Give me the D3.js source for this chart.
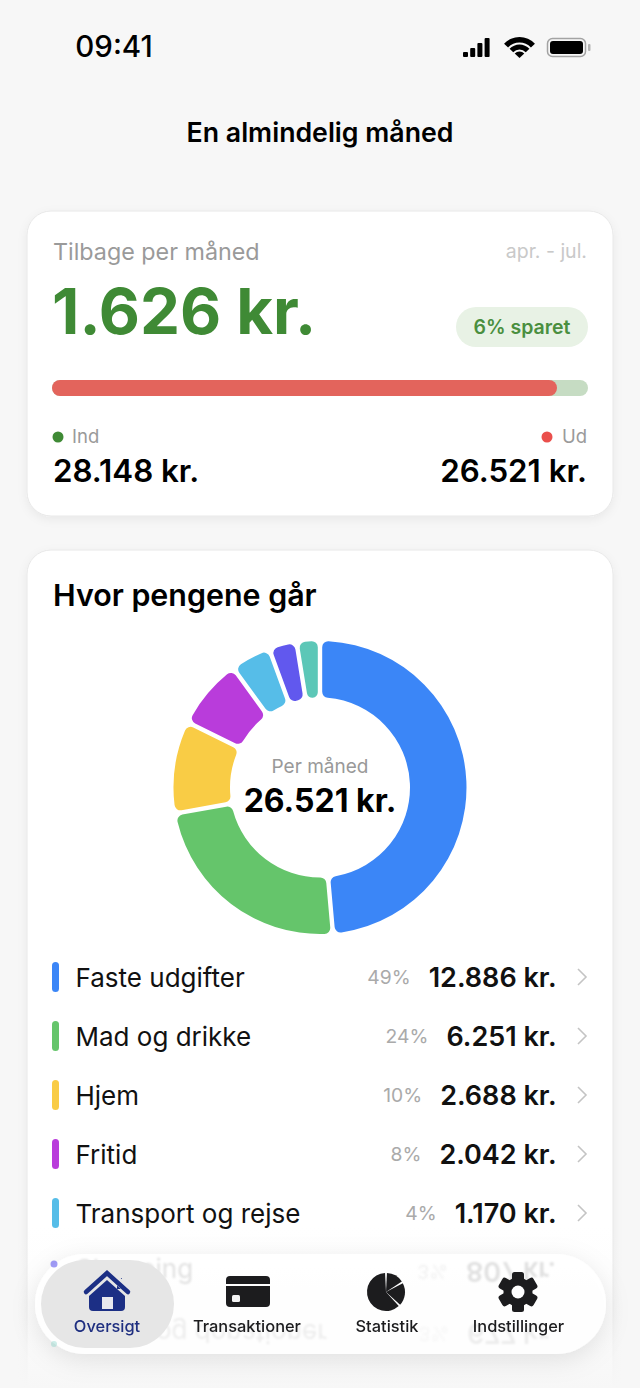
<!DOCTYPE html>
<html lang="da">
<head>
<meta charset="utf-8">
<title>En almindelig måned</title>
<script src="https://cdn.jsdelivr.net/npm/d3@7"></script>
<style>
  html, body { margin: 0; padding: 0; background: #f7f7f7; }
  svg { display: block; font-family: Inter, "Noto Sans", sans-serif; }
</style>
</head>
<body>
<svg id="app" width="640" height="1388"></svg>
<script>
// data
const categories = ["Faste udgifter", "Mad og drikke", "Hjem", "Fritid", "Transport og rejse", "Shopping", "Gaver og donationer"];
const amounts = [12886, 6251, 2688, 2042, 1170, 807, 677];
const percents = [49, 24, 10, 8, 4, 3, 3];
const colors = ["#3b86f7", "#65c56b", "#f9cc45", "#b93cdb", "#56bde8", "#6158ee", "#5cc7b7"];
const income = 28148;
const expense = 26521;
const left = 1626;
const savedPct = 6;
const navLabels = ["Oversigt", "Transaktioner", "Statistik", "Indstillinger"];

const kr = v => d3.format(",")(v).replace(/,/g, ".") + " kr.";

const svg = d3.select("#app");
const defs = svg.append("defs");

// skygge paa kort og menu
const cardShadow = defs.append("filter").attr("id", "cardShadow")
    .attr("x", "-10%").attr("y", "-10%").attr("width", "120%").attr("height", "120%");
cardShadow.append("feDropShadow").attr("dx", 0).attr("dy", 3).attr("stdDeviation", 5)
    .attr("flood-color", "#000").attr("flood-opacity", 0.06);

const navShadow = defs.append("filter").attr("id", "navShadow")
    .attr("x", "-10%").attr("y", "-40%").attr("width", "120%").attr("height", "180%");
navShadow.append("feDropShadow").attr("dx", 0).attr("dy", 6).attr("stdDeviation", 12)
    .attr("flood-color", "#000").attr("flood-opacity", 0.10);

defs.append("filter").attr("id", "ghostBlur").append("feGaussianBlur").attr("stdDeviation", 0.9);
defs.append("filter").attr("id", "activeBlur").append("feGaussianBlur").attr("stdDeviation", 0.6);

const fade = defs.append("linearGradient").attr("id", "bottomFade")
    .attr("x1", 0).attr("y1", 0).attr("x2", 0).attr("y2", 1);
fade.append("stop").attr("offset", "0%").attr("stop-color", "#f7f7f7").attr("stop-opacity", 0);
fade.append("stop").attr("offset", "30%").attr("stop-color", "#f7f7f7").attr("stop-opacity", 0.15);
fade.append("stop").attr("offset", "100%").attr("stop-color", "#f7f7f7").attr("stop-opacity", 1);

function text(parent, str, x, y, size, weight, fill, anchor) {
    return parent.append("text")
        .attr("x", x).attr("y", y)
        .attr("font-size", size).attr("font-weight", weight)
        .attr("fill", fill).attr("text-anchor", anchor || "start")
        .text(str);
}

drawStatusBar();
text(svg, "En almindelig måned", 320, 142, 26.7, 600, "#000", "middle");
drawSummaryCard();
drawSpendingCard();
drawNav();

function drawStatusBar() {
    const g = svg.append("g");
    text(g, "09:41", 114, 57, 29.5, 500, "#000", "middle");

    // signal
    [5, 9, 14, 19].forEach((h, i) => {
        g.append("rect").attr("x", 463 + i * 7.2).attr("y", 57 - h)
            .attr("width", 5).attr("height", h).attr("rx", 1).attr("fill", "#000");
    });

    // wifi
    const wifi = g.append("g").attr("transform", "translate(519.5,58)");
    [[15.5, 21], [8.5, 13.5], [0, 6.5]].forEach(([r0, r1]) => {
        wifi.append("path").attr("fill", "#000")
            .attr("d", d3.arc().innerRadius(r0).outerRadius(r1)
                .startAngle(-Math.PI / 3.8).endAngle(Math.PI / 3.8)());
    });

    // batteri
    g.append("rect").attr("x", 547.5).attr("y", 38.5).attr("width", 38).attr("height", 18)
        .attr("rx", 5).attr("fill", "none").attr("stroke", "#a3a3a3").attr("stroke-width", 1.5);
    g.append("rect").attr("x", 550).attr("y", 41).attr("width", 33).attr("height", 13)
        .attr("rx", 3).attr("fill", "#000");
    g.append("rect").attr("x", 588).attr("y", 44).attr("width", 2.5).attr("height", 7)
        .attr("rx", 1).attr("fill", "#b5b5b5");
}

function drawSummaryCard() {
    const g = svg.append("g");
    g.append("rect").attr("x", 27).attr("y", 211).attr("width", 586).attr("height", 305)
        .attr("rx", 24).attr("fill", "#fff").attr("stroke", "#e8e8e8").attr("filter", "url(#cardShadow)");

    text(g, "Tilbage per måned", 53, 260, 23.3, 400, "#9a9a9a");
    text(g, "apr. - jul.", 587, 258, 19.5, 400, "#c9c9c9", "end");
    text(g, kr(left), 52, 334, 63.5, 700, "#3f8a35");

    g.append("rect").attr("x", 456).attr("y", 307).attr("width", 132).attr("height", 40)
        .attr("rx", 20).attr("fill", "#e8f2e5");
    text(g, savedPct + "% sparet", 522, 334, 19.5, 600, "#4a8f3f", "middle");

    // fordeling ind / ud
    const x = d3.scaleLinear().domain([0, income]).range([52, 588]);
    g.append("rect").attr("x", x(0)).attr("y", 380).attr("width", x(income) - x(0)).attr("height", 16)
        .attr("rx", 8).attr("fill", "#c6dcc3");
    g.append("rect").attr("x", x(0)).attr("y", 380).attr("width", x(expense) - x(0)).attr("height", 16)
        .attr("rx", 8).attr("fill", "#e3645c");

    g.append("circle").attr("cx", 58).attr("cy", 437).attr("r", 5.5).attr("fill", "#3f8a35");
    text(g, "Ind", 72, 443, 18.5, 400, "#9a9a9a");
    g.append("circle").attr("cx", 547).attr("cy", 437).attr("r", 5.5).attr("fill", "#ea4f4c");
    text(g, "Ud", 587, 443, 18.5, 400, "#9a9a9a", "end");

    text(g, kr(income), 53, 482, 31.3, 600, "#000");
    text(g, kr(expense), 587, 482, 31.3, 600, "#000", "end");
}

function drawSpendingCard() {
    const g = svg.append("g");
    g.append("rect").attr("x", 27).attr("y", 550).attr("width", 586).attr("height", 900)
        .attr("rx", 24).attr("fill", "#fff").attr("stroke", "#e8e8e8").attr("filter", "url(#cardShadow)");

    text(g, "Hvor pengene går", 53, 606, 30.4, 600, "#000");

    // donut
    const pie = d3.pie().value(d => d).sort(null);
    const arc = d3.arc().innerRadius(90).outerRadius(146.5).cornerRadius(6).padRadius(146.5).padAngle(0.03);
    const donut = g.append("g").attr("transform", "translate(320,787.5)");
    donut.selectAll("path").data(pie(amounts)).enter().append("path")
        .attr("d", arc)
        .attr("fill", (d, i) => colors[i]);

    text(g, "Per måned", 320, 773, 19, 400, "#999", "middle");
    text(g, kr(expense), 320, 812, 32, 700, "#000", "middle");

    // raekker
    const y = d3.scalePoint().domain(categories).range([977, 1331]);
    categories.slice(0, 5).forEach((name, i) => {
        const cy = y(name);
        const row = g.append("g");
        row.append("rect").attr("x", 52).attr("y", cy - 15).attr("width", 7).attr("height", 30)
            .attr("rx", 3.5).attr("fill", colors[i]);
        text(row, name, 75.5, cy + 9.5, 26, 400, "#111");
        const val = text(row, kr(amounts[i]), 556.5, cy + 10, 27, 600, "#111", "end");
        const w = val.node().getComputedTextLength();
        text(row, percents[i] + "%", 556.5 - w - 18, cy + 7, 19.3, 400, "#aaa", "end");
        row.append("path").attr("d", `M578,${cy - 8} L586,${cy} L578,${cy + 8}`)
            .attr("fill", "none").attr("stroke", "#c4c4c4").attr("stroke-width", 1.6);
    });

    // udtoning mod bunden
    svg.append("rect").attr("x", 0).attr("y", 1225).attr("width", 640).attr("height", 163)
        .attr("fill", "url(#bottomFade)");
}

function drawNav() {
    const g = svg.append("g");
    g.append("rect").attr("x", 35).attr("y", 1254).attr("width", 571).attr("height", 100)
        .attr("rx", 50).attr("fill", "#fff").attr("fill-opacity", 0.96).attr("filter", "url(#navShadow)");

    // raekker 6-7 anes gennem glasset, spejlvendt
    const y = d3.scalePoint().domain(categories).range([977, 1331]);
    const ghost = g.append("g").attr("filter", "url(#ghostBlur)");
    categories.slice(5).forEach((name, i) => {
        const k = i + 5;
        const cy = y(name) + (k === 5 ? 0 : 3);
        const row = ghost.append("g")
            .attr("opacity", k === 5 ? 0.12 : 0.07)
            .attr("transform", `translate(0,${2 * cy}) scale(1,-1)`);
        const nameText = text(row, name, 76, cy + 9.5, 26, 400, "#111");
        if (k === 5) {
            // navnet i raekke 6 staar ikke paa hovedet
            nameText.attr("transform", `translate(0,${2 * cy + 4}) scale(1,-1)`);
        }
        const val = text(row, kr(amounts[k]), 556, cy + 10, 27, 600, "#111", "end");
        const w = val.node().getComputedTextLength();
        text(row, percents[k] + "%", 556 - w - 18, cy + 7, 19.3, 400, "#888", "end");
    });
    g.append("circle").attr("cx", 54).attr("cy", 1264).attr("r", 3.5).attr("fill", colors[5]).attr("opacity", 0.6);
    g.append("circle").attr("cx", 54).attr("cy", 1344).attr("r", 3).attr("fill", colors[6]).attr("opacity", 0.3);

    // valgt fane
    g.append("rect").attr("x", 41).attr("y", 1260).attr("width", 133).attr("height", 88)
        .attr("rx", 44).attr("fill", "#e6e6e6").attr("filter", "url(#activeBlur)");

    const navX = [107, 247, 387, 518.5];
    navLabels.forEach((label, i) => {
        text(g, label, navX[i], 1332, 16.4, 500, i === 0 ? "#1f2f80" : "#1c1c1e", "middle");
    });

    // hjem
    const home = g.append("g").attr("fill", "#1c2f85");
    home.append("path").attr("d", "M89,1296 L107,1280 L125,1296 L125,1307 Q125,1311 121,1311 L93,1311 Q89,1311 89,1307 Z");
    home.append("rect").attr("x", 117).attr("y", 1278).attr("width", 5).attr("height", 11);
    home.append("path").attr("d", "M85,1291 L107,1271 L129,1291").attr("fill", "none")
        .attr("stroke", "#e6e6e6").attr("stroke-width", 8);
    home.append("path").attr("d", "M86,1292 L107,1273 L128,1292").attr("fill", "none")
        .attr("stroke", "#1c2f85").attr("stroke-width", 4.5).attr("stroke-linecap", "round");
    home.append("rect").attr("x", 102).attr("y", 1297).attr("width", 11).attr("height", 12).attr("fill", "#e8e8ee");

    // kort
    const card = g.append("g");
    card.append("rect").attr("x", 226).attr("y", 1276).attr("width", 44).attr("height", 31)
        .attr("rx", 4).attr("fill", "#1c1c1e");
    card.append("rect").attr("x", 226).attr("y", 1284).attr("width", 44).attr("height", 2).attr("fill", "#fff");
    card.append("rect").attr("x", 232).attr("y", 1295).attr("width", 8).attr("height", 7).attr("rx", 1.5).attr("fill", "#f2f2f2");

    // lagkage
    const statParts = [0.165, 0.21, 0.625];
    const statPie = d3.pie().value(d => d).sort(null)(statParts);
    const statArc = d3.arc().innerRadius(0).outerRadius(19).padRadius(19).padAngle(0.1);
    g.append("g").attr("transform", "translate(386,1292)")
        .selectAll("path").data(statPie).enter().append("path")
        .attr("d", statArc).attr("fill", "#1c1c1e");

    // tandhjul
    const gear = g.append("g").attr("transform", "translate(518,1292)");
    d3.range(6).forEach(i => {
        gear.append("rect").attr("x", -6).attr("y", -20).attr("width", 12).attr("height", 12).attr("rx", 2.5)
            .attr("fill", "#1c1c1e").attr("transform", `rotate(${i * 60})`);
    });
    gear.append("circle").attr("r", 14.5).attr("fill", "#1c1c1e");
    gear.append("circle").attr("r", 6.5).attr("fill", "#fff");
}
</script>
</body>
</html>
